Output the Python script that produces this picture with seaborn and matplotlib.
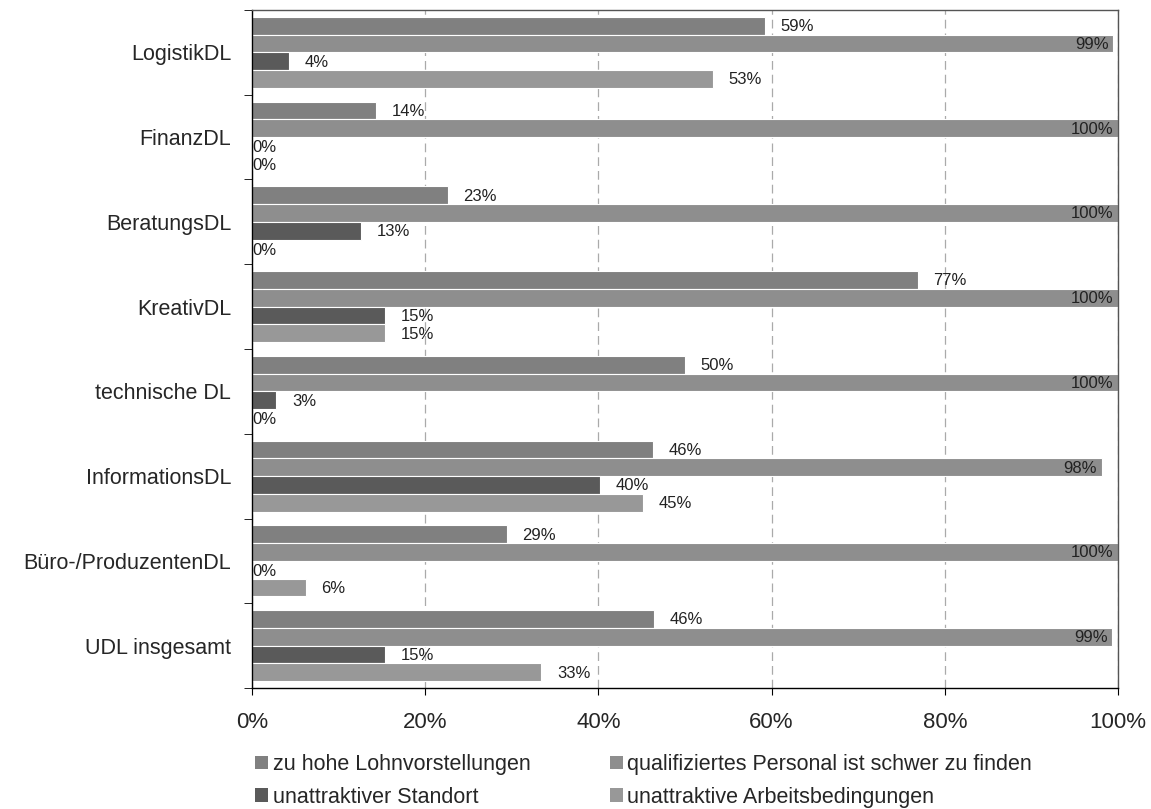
import pandas as pd
import matplotlib.pyplot as plt
import seaborn as sns
from matplotlib.ticker import FixedLocator, PercentFormatter
from matplotlib.patches import Patch

# Data (share of firms, percent)
branchen = ['LogistikDL', 'FinanzDL', 'BeratungsDL', 'KreativDL', 'technische DL',
            'InformationsDL', 'Büro-/ProduzentenDL', 'UDL insgesamt']
gruende = ['zu hohe Lohnvorstellungen', 'qualifiziertes Personal ist schwer zu finden',
           'unattraktiver Standort', 'unattraktive Arbeitsbedingungen']
lohn = [59.2, 14.3, 22.6, 76.9, 50.0, 46.3, 29.4, 46.4]
personal = [99.4, 100, 100, 100, 100, 98.1, 100, 99.3]
standort = [4.3, 0, 12.6, 15.4, 2.8, 40.2, 0, 15.4]
arbeit = [53.2, 0, 0, 15.4, 0, 45.1, 6.2, 33.4]
farben = ['#808080', '#8e8e8e', '#5a5a5a', '#989898']

rows = []
for serie, werte in zip(gruende, [lohn, personal, standort, arbeit]):
    for b, v in zip(branchen, werte):
        rows.append({'Branche': b, 'Grund': serie, 'Wert': v})
df = pd.DataFrame(rows)

sns.set_style('white')
plt.rcParams['font.family'] = ['Liberation Sans', 'DejaVu Sans']

fig = plt.figure(figsize=(11.51, 8.09), dpi=100)
ax = fig.add_axes([252 / 1151, 1 - 688 / 809, 866 / 1151, 678 / 809])

sns.barplot(ax=ax, data=df, y='Branche', x='Wert', hue='Grund', order=branchen,
            hue_order=gruende, palette=farben, orient='h', width=0.84,
            edgecolor='white', linewidth=0.8, legend=False, saturation=1)

# data labels
for i, cont in enumerate(ax.containers):
    for bar, v in zip(cont, df[df['Grund'] == gruende[i]]['Wert']):
        y = bar.get_y() + bar.get_height() / 2 + 0.01
        txt = f'{round(v):.0f}%'
        if i == 1:
            ax.text(v - 0.5, y, txt, ha='right', va='center', fontsize=12, color='#222222')
        elif v == 0:
            ax.text(0.1, y + 0.01, txt, ha='left', va='center', fontsize=12, color='#222222')
        else:
            ax.text(v + 1.8, y, txt, ha='left', va='center', fontsize=12, color='#222222')

ax.set_xlim(0, 100)
ax.set_ylim(len(branchen) - 0.5, -0.5)
ax.xaxis.set_major_locator(FixedLocator([0, 20, 40, 60, 80, 100]))
ax.xaxis.set_major_formatter(PercentFormatter(decimals=0))
ax.set_xlabel('')
ax.set_ylabel('')
ax.tick_params(axis='x', labelsize=16, length=5, direction='out', bottom=True, pad=12, color='black')
ax.tick_params(axis='y', which='major', labelsize=15.5, length=0, pad=15)
ax.yaxis.set_minor_locator(FixedLocator([k + 0.5 for k in range(-1, len(branchen))]))
ax.tick_params(axis='y', which='minor', length=6, left=True, direction='out', color='black')
ax.grid(axis='x', color='#aaaaaa', linestyle=(0, (7, 4)), linewidth=0.9)
ax.set_axisbelow(True)
for s in ['left', 'bottom']:
    ax.spines[s].set_color('black')
    ax.spines[s].set_linewidth(1.0)
for s in ['top', 'right']:
    ax.spines[s].set_color('#555555')
    ax.spines[s].set_linewidth(1.0)

# legend (order so rows read: Lohn | Personal ; Standort | Arbeit)
idx = [0, 2, 1, 3]
handles = [Patch(facecolor=farben[k], edgecolor='none') for k in idx]
labels = [gruende[k] for k in idx]
fig.legend(handles, labels, ncol=2, loc='center left', bbox_to_anchor=(236 / 1151, 1 - 781 / 809),
           frameon=False, fontsize=15.5, handlelength=0.6, handleheight=0.6, handletextpad=0.2,
           columnspacing=3.7, labelspacing=0.55)

fig.savefig('out.png', dpi=100)
